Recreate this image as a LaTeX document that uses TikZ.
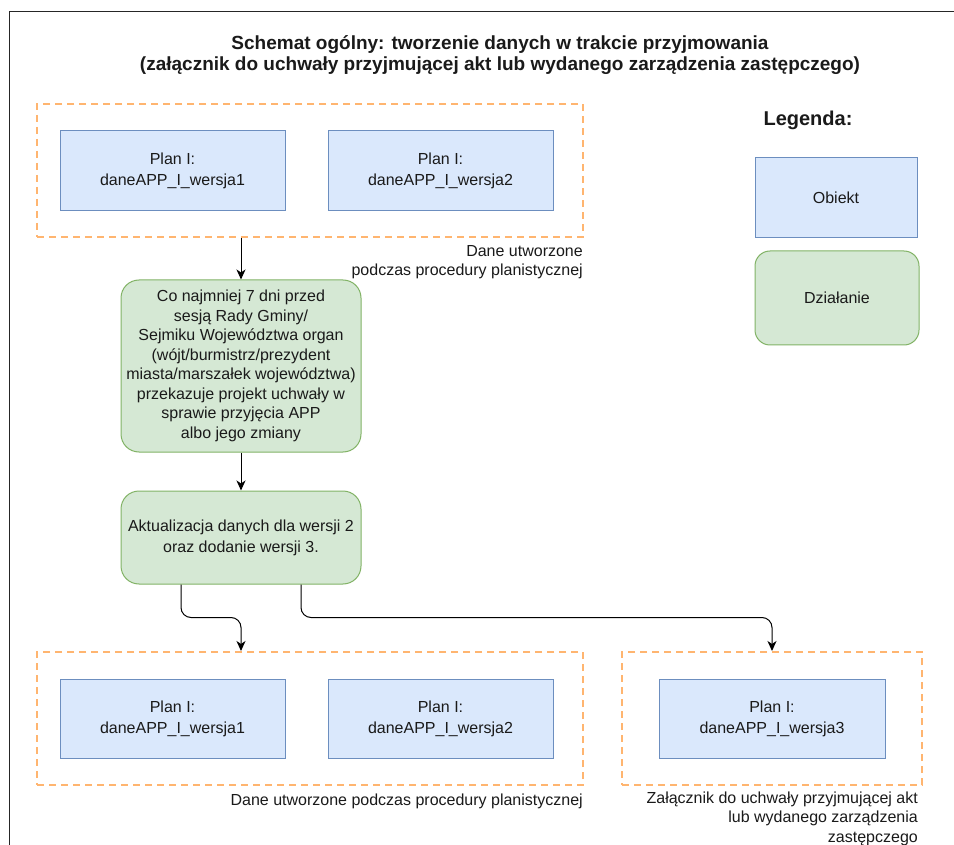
\documentclass[tikz,border=0pt]{standalone}
\usepackage{fontspec}
\setmainfont{Liberation Sans}
\usetikzlibrary{arrows.meta}
\definecolor{orng}{HTML}{FFB570}
\definecolor{bfill}{HTML}{DAE8FC}
\definecolor{bdraw}{HTML}{6C8EBF}
\definecolor{gfill}{HTML}{D5E8D4}
\definecolor{gdraw}{HTML}{82B366}
\definecolor{txt}{HTML}{1A1A1A}
\tikzset{
 obj/.style={draw=bdraw, fill=bfill, line width=1pt, minimum width=225pt, minimum height=80pt, inner sep=0pt, align=center, text=txt, font=\fontsize{16}{21}\selectfont},
 act/.style={draw=gdraw, fill=gfill, line width=1pt, rounded corners=18pt, minimum width=240pt, inner sep=0pt, align=center, text=txt, font=\fontsize{16}{19.5}\selectfont},
 grp/.style={draw=orng, line width=2pt, dash pattern=on 7pt off 5pt, minimum width=546pt, minimum height=133pt, inner sep=0pt},
 lbl/.style={align=right, text=txt, font=\fontsize{16}{19.5}\selectfont, inner sep=0pt},
 conn/.style={draw=black, line width=1pt, rounded corners=10pt, -{Stealth[length=10pt,width=9pt,inset=3pt]}},
}
\begin{document}
\begin{tikzpicture}[x=1pt,y=-1pt]
\useasboundingbox (0,0) rectangle (954,845);
\fill[white] (0,0) rectangle (954,845);
% frame
\draw[line width=1.5pt, black!85] (9.5,845) -- (9.5,11.5) -- (954,11.5);
% title
\node[align=center, text=txt, font=\bfseries\fontsize{19}{21}\selectfont] (title) at (500,55.5)
  {Schemat ogólny: tworzenie danych w trakcie przyjmowania\\(załącznik do uchwały przyjmującej akt lub wydanego zarządzenia zastępczego)};
% top group
\node[grp] (ct) at (310,170.5) {};
\node[obj] (b1) at (172.5,171) {Plan I:\\daneAPP\_I\_wersja1};
\node[obj] (b2) at (440.5,171) {Plan I:\\daneAPP\_I\_wersja2};
\node[lbl, anchor=north east] (lt) at (583,245) {Dane utworzone\\podczas procedury planistycznej};
% actions
\node[act, minimum height=172pt] (g1) at (241,366)
  {Co najmniej 7 dni przed\\sesją Rady Gminy/\\Sejmiku Województwa organ\\(wójt/burmistrz/prezydent\\miasta/marszałek województwa)\\przekazuje projekt uchwały w\\sprawie przyjęcia APP\\albo jego zmiany};
\node[act, minimum height=93pt, font=\fontsize{16}{21}\selectfont] (g2) at (241,537.5)
  {Aktualizacja danych dla wersji 2\\oraz dodanie wersji 3.};
% bottom left group
\node[grp] (cl) at (310,718.5) {};
\node[obj, minimum height=79pt] (b3) at (172.5,718.5) {Plan I:\\daneAPP\_I\_wersja1};
\node[obj, minimum height=79pt] (b4) at (440.5,718.5) {Plan I:\\daneAPP\_I\_wersja2};
\node[lbl, anchor=east] (ll) at (583,801) {Dane utworzone podczas procedury planistycznej};
% bottom right group
\node[grp, minimum width=300pt] (cr) at (772,718.5) {};
\node[obj, minimum height=79pt, minimum width=226pt] (b5) at (772,718.5) {Plan I:\\daneAPP\_I\_wersja3};
\node[lbl, anchor=north east] (lr) at (918,791.5) {Załącznik do uchwały przyjmującej akt\\lub wydanego zarządzenia\\zastępczego};
% legend
\node[text=txt, font=\bfseries\fontsize{20}{24}\selectfont] (leg) at (808,120) {Legenda:};
\node[obj, minimum width=162pt, minimum height=80pt] (lo) at (836,198) {Obiekt};
\node[act, minimum width=164pt, minimum height=94pt, rounded corners=15pt] (la) at (837,298) {Działanie};
% connectors
\draw[conn] (ct.south -| g1.north) -- (g1.north);
\draw[conn] (g1.south) -- (g2.north);
\draw[conn] ([xshift=-60pt]g2.south) -- ++(0,33) -| (cl.north -| g2.south);
\draw[conn] ([xshift=60pt]g2.south) -- ++(0,33) -| (cr.north);
\end{tikzpicture}
\end{document}
